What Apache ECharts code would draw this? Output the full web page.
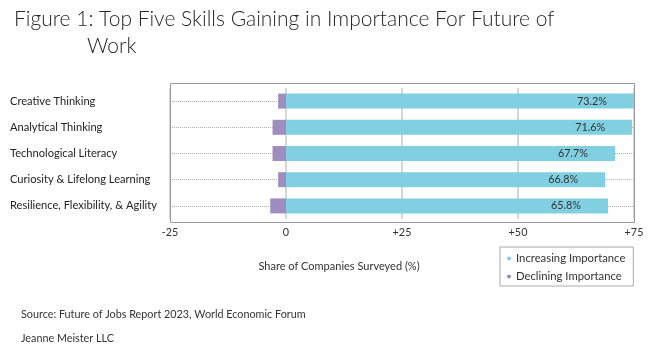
<!DOCTYPE html>
<html>
<head>
<meta charset="utf-8">
<script src="https://cdn.jsdelivr.net/npm/echarts@6/dist/echarts.min.js"></script>
<style>
  html, body { margin: 0; padding: 0; background: #fff; }
  #chart { width: 658px; height: 353px; }
</style>
</head>
<body>
<div id="chart"></div>
<script>
// skills, top to bottom
const skills = [
    'Creative Thinking',
    'Analytical Thinking',
    'Technological Literacy',
    'Curiosity & Lifelong Learning',
    'Resilience, Flexibility, & Agility'
];
// bar lengths as drawn in the picture
const increasing = [75.0, 74.6, 70.9, 68.8, 69.4];
const declining = [-1.7, -2.9, -2.9, -1.7, -3.4];
// printed labels
const increasingLabels = ['73.2%', '71.6%', '67.7%', '66.8%', '65.8%'];
const axisMin = -25;
const axisMax = 75;

const font = 'Lato, "Open Sans", sans-serif';

let myChart = echarts.init(document.getElementById('chart'), null, { renderer: 'canvas' });

// dotted leader lines: left edge to declining bar, increasing bar to right edge
let leaders = [];
skills.forEach(function (s, i) {
    leaders.push([{ coord: [axisMin, s] }, { coord: [declining[i], s] }]);
    if (increasing[i] < axisMax) {
        leaders.push([{ coord: [increasing[i], s] }, { coord: [axisMax, s] }]);
    }
});

let option = {
    animation: false,
    textStyle: { fontFamily: font },
    title: [
        {
            text: 'Figure 1: Top Five Skills Gaining in Importance For Future of',
            left: 9, top: 4,
            textStyle: { fontSize: 21, fontWeight: 300, color: '#262626', fontFamily: font }
        },
        {
            text: 'Work',
            left: 82, top: 31,
            textStyle: { fontSize: 21, fontWeight: 300, color: '#262626', fontFamily: font }
        },
        {
            text: 'Share of Companies Surveyed (%)',
            left: 334, top: 256, textAlign: 'center',
            textStyle: { fontSize: 11, fontWeight: 'normal', color: '#333', fontFamily: font }
        },
        {
            text: 'Source: Future of Jobs Report 2023, World Economic Forum',
            left: 16, top: 304,
            textStyle: { fontSize: 10.8, fontWeight: 'normal', color: '#333', fontFamily: font }
        },
        {
            text: 'Jeanne Meister LLC',
            left: 16, top: 328,
            textStyle: { fontSize: 10.8, fontWeight: 'normal', color: '#333', fontFamily: font }
        }
    ],
    legend: {
        orient: 'vertical',
        left: 500, top: 247,
        width: 132, height: 42,
        padding: [6, 8, 4, 7],
        itemGap: 7,
        borderColor: '#aaa',
        borderWidth: 1,
        icon: 'circle',
        itemWidth: 4, itemHeight: 4,
        textStyle: { fontSize: 11.3, color: '#333', fontFamily: font },
        data: ['Increasing Importance', 'Declining Importance']
    },
    graphic: [
        {
            type: 'rect',
            shape: { x: 170.5, y: 83.5, width: 464, height: 139 },
            style: { fill: null, stroke: '#999', lineWidth: 1 },
            z: 10
        }
    ],
    grid: { left: 170, right: 24, top: 88, height: 131 },
    xAxis: {
        type: 'value',
        min: axisMin,
        max: axisMax,
        interval: 25,
        axisLine: { show: false },
        axisTick: { show: false },
        splitLine: { lineStyle: { color: '#c8c8c8', width: 1.5 } },
        axisLabel: {
            margin: 8,
            fontSize: 10.8,
            color: '#333',
            formatter: function (v) { return v > 0 ? '+' + v : String(v); }
        }
    },
    yAxis: {
        type: 'category',
        data: skills,
        inverse: true,
        axisLine: { show: false },
        axisTick: { show: false },
        axisLabel: {
            align: 'left',
            margin: 160,
            fontSize: 11.1,
            color: '#222'
        }
    },
    series: [
        {
            name: 'Increasing Importance',
            type: 'bar',
            data: increasing,
            barWidth: 15,
            barGap: '-100%',
            itemStyle: { color: '#80d0e1' },
            label: {
                show: true,
                position: 'insideRight',
                distance: 27,
                fontSize: 10.8,
                color: '#333',
                formatter: function (p) { return increasingLabels[p.dataIndex]; }
            }
        },
        {
            name: 'Declining Importance',
            type: 'bar',
            data: declining,
            barWidth: 15,
            itemStyle: { color: '#a08dbf' },
            markLine: {
                silent: true,
                symbol: 'none',
                label: { show: false },
                lineStyle: { type: 'dotted', color: '#aaa', width: 1 },
                data: leaders
            }
        }
    ]
};

option && myChart.setOption(option);
</script>
</body>
</html>
